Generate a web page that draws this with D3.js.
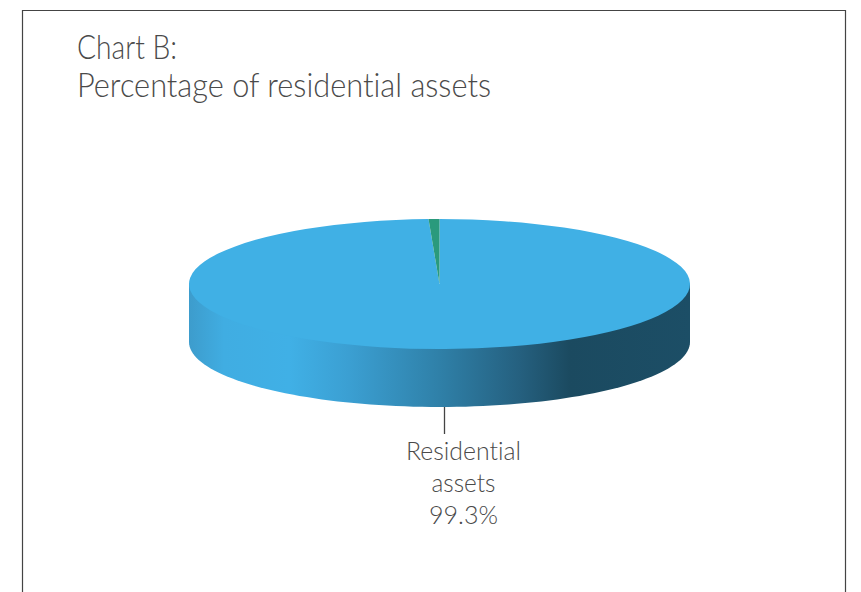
<!DOCTYPE html>
<html>
<head>
<meta charset="utf-8">
<script src="https://cdn.jsdelivr.net/npm/d3@7"></script>
<style>
  html, body { margin: 0; padding: 0; background: #fff; }
  svg { display: block; }
  text { font-family: Lato, sans-serif; font-weight: 300; fill: #4a4a4a; font-variant-ligatures: none; }
</style>
</head>
<body>
<svg id="chart" width="861" height="592"></svg>
<script>
const categories = ["Residential assets", "Other assets"];
const shares = [99.3, 0.7];
const sliceColors = ["#40b0e5", "#2a9a7c"];
const titleLines = ["Chart B:", "Percentage of residential assets"];
const titleWidths = [100, 414];
const labelLines = ["Residential", "assets", "99.3%"];
const labelWidths = [115, 64, 69];

const centerX = 439.5, centerY = 284, radiusX = 250.5, radiusY = 65, wallDepth = 58;
const svg = d3.select("#chart");

// Wall shading runs left to right across the rim of the disc
const wallStops = [
  [0, "#3d9ccc"], [0.07, "#40ade2"], [0.2, "#40b0e6"], [0.32, "#3b9fd2"],
  [0.5, "#2f80a8"], [0.66, "#25607f"], [0.76, "#1b4a60"], [1, "#1c4e66"]
];
const gradient = svg.append("defs").append("linearGradient")
  .attr("id", "wallShade")
  .attr("gradientUnits", "userSpaceOnUse")
  .attr("x1", centerX - radiusX).attr("x2", centerX + radiusX)
  .attr("y1", 0).attr("y2", 0);
gradient.selectAll("stop").data(wallStops).join("stop")
  .attr("offset", d => d[0]).attr("stop-color", d => d[1]);

// Frame: open at the bottom edge
svg.append("path")
  .attr("d", d3.line()([[22.5, 592], [22.5, 10.5], [845.5, 10.5], [845.5, 592]]))
  .attr("fill", "none").attr("stroke", "#444").attr("stroke-width", 1.2);

// Title
svg.append("g").selectAll("text").data(titleLines).join("text")
  .attr("x", 77).attr("y", (d, i) => 59 + i * 37.5)
  .attr("font-size", 32.5)
  .attr("textLength", (d, i) => titleWidths[i])
  .attr("lengthAdjust", "spacingAndGlyphs")
  .text(d => d);

// Front wall of the disc; its upper edge is a chord hidden beneath the top face
const rimAngles = d3.range(0, 181, 2).map(d => d * Math.PI / 180);
const rimPoint = (a, dy) => [centerX - radiusX * Math.cos(a), centerY + dy + radiusY * Math.sin(a)];
const wallPoints = [rimPoint(0, 0)]
  .concat(rimAngles.map(a => rimPoint(a, wallDepth)))
  .concat([rimPoint(Math.PI, 0)]);
svg.append("path")
  .attr("d", d3.line()(wallPoints) + "Z")
  .attr("fill", "url(#wallShade)");

// Top face: pie slices squashed into the ellipse
const pie = d3.pie().sort(null);
const arc = d3.arc().innerRadius(0).outerRadius(radiusX);
svg.append("g")
  .attr("transform", `translate(${centerX},${centerY}) scale(1,${radiusY / radiusX})`)
  .selectAll("path").data(pie(shares)).join("path")
  .attr("d", arc)
  .attr("fill", (d, i) => sliceColors[i])
  .append("title").text((d, i) => categories[i]);

// Leader line and value label
svg.append("line")
  .attr("x1", 444.5).attr("x2", 444.5)
  .attr("y1", centerY + radiusY + wallDepth).attr("y2", 434)
  .attr("stroke", "#444").attr("stroke-width", 1.3);
svg.append("g").selectAll("text").data(labelLines).join("text")
  .attr("x", 463.5).attr("y", (d, i) => 459.5 + i * 32)
  .attr("text-anchor", "middle")
  .attr("font-size", 26)
  .attr("textLength", (d, i) => labelWidths[i])
  .attr("lengthAdjust", "spacingAndGlyphs")
  .text(d => d);
</script>
</body>
</html>
